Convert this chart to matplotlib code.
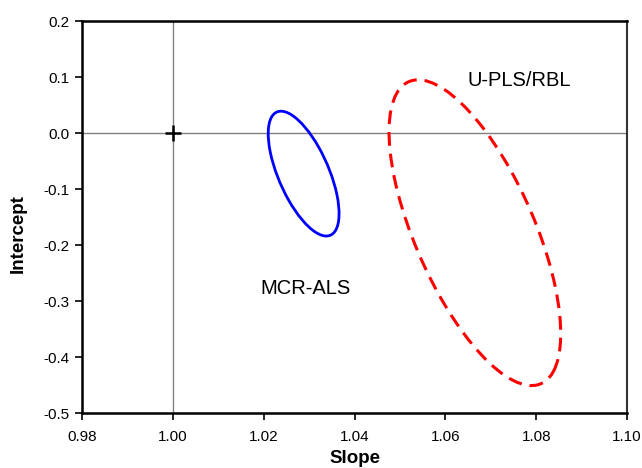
import numpy as np
import matplotlib.pyplot as plt
import matplotlib.transforms as transforms
from matplotlib.patches import Ellipse

# ── data: joint confidence regions (centre, half-extent, correlation) ──
METHODS = ["MCR-ALS", "U-PLS/RBL"]
CENTER_SLOPE = [1.0288, 1.0665]
CENTER_INTERCEPT = [-0.0725, -0.178]
HALF_SLOPE = [0.0078, 0.0189]
HALF_INTERCEPT = [0.1115, 0.273]
CORRELATION = [-0.64, -0.66]

LABEL_POS_X = [1.0292, 1.0763]
LABEL_POS_Y = [-0.277, 0.093]

IDEAL_POINT = (1.0, 0.0)
X_TICKS = [0.98, 1.00, 1.02, 1.04, 1.06, 1.08, 1.10]
Y_TICKS = [-0.5, -0.4, -0.3, -0.2, -0.1, 0.0, 0.1, 0.2]

# ── style ──
COLORS = ["#0000ff", "#ff0000"]
STYLES = ["-", (0, (4.5, 2.6))]
WIDTHS = [2.0, 2.2]

plt.rcParams.update({
    "font.family": ["Liberation Sans", "DejaVu Sans"],
    "xtick.direction": "out",
    "ytick.direction": "out",
    "xtick.major.size": 5,
    "ytick.major.size": 5,
    "xtick.major.width": 1.2,
    "ytick.major.width": 1.2,
})

fig = plt.figure(figsize=(6.42, 4.68), dpi=100)
ax = fig.add_axes([0.1277, 0.1175, 0.849, 0.8376])

ax.set_xlim(X_TICKS[0], X_TICKS[-1])
ax.set_ylim(Y_TICKS[0], Y_TICKS[-1])
ax.set_xticks(X_TICKS)
ax.set_yticks(Y_TICKS)
ax.set_xticklabels([f"{v:.2f}" for v in X_TICKS], fontsize=11)
ax.set_yticklabels([f"{v:.1f}" for v in Y_TICKS], fontsize=11)
ax.tick_params(axis="x", pad=7)
ax.tick_params(axis="y", pad=4)

# reference lines through the ideal point
ax.axvline(IDEAL_POINT[0], color="#808080", linewidth=1.0, zorder=1)
ax.axhline(IDEAL_POINT[1], color="#808080", linewidth=1.0, zorder=1)
ax.plot([IDEAL_POINT[0]], [IDEAL_POINT[1]], marker="+", color="black",
        markersize=11, markeredgewidth=1.8, zorder=3)

# ellipses drawn as confidence-ellipse patches
for i in range(len(METHODS)):
    rho = CORRELATION[i]
    ell = Ellipse((0, 0), width=2 * np.sqrt(1 + rho), height=2 * np.sqrt(1 - rho),
                  angle=45, facecolor="none", edgecolor=COLORS[i],
                  linestyle=STYLES[i], linewidth=WIDTHS[i], zorder=2)
    tr = (transforms.Affine2D()
          .scale(HALF_SLOPE[i], HALF_INTERCEPT[i])
          .translate(CENTER_SLOPE[i], CENTER_INTERCEPT[i]))
    ell.set_transform(tr + ax.transData)
    ax.add_patch(ell)
    ax.text(LABEL_POS_X[i], LABEL_POS_Y[i], METHODS[i], fontsize=14.5,
            ha="center", va="center")

ax.set_xlabel("Slope", fontsize=13.5, fontweight="bold")
ax.set_ylabel("Intercept", fontsize=13.5, fontweight="bold")
ax.xaxis.set_label_coords(0.5, -0.095)
ax.yaxis.set_label_coords(-0.101, 0.457)

for side in ["left", "bottom", "top"]:
    ax.spines[side].set_linewidth(1.8)
ax.spines["right"].set_linewidth(1.5)
ax.spines["right"].set_color("#333333")

fig.savefig("out.png", dpi=100)
